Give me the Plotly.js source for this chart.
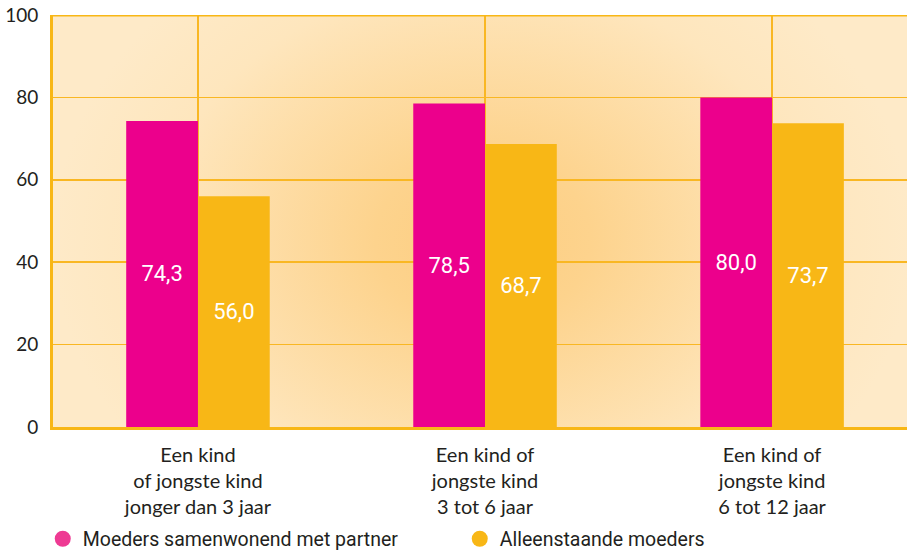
<!DOCTYPE html>
<html>
<head>
<meta charset="utf-8">
<script src="https://cdn.plot.ly/plotly-3.0.1.min.js"></script>
<style>html,body{margin:0;padding:0;background:#fff;}#chart{width:907px;height:550px;}</style>
</head>
<body>
<div id="chart"></div>
<script>
var categories = ["Een kind<br>of jongste kind<br>jonger dan 3 jaar", "Een kind of<br>jongste kind<br>3 tot 6 jaar", "Een kind of<br>jongste kind<br>6 tot 12 jaar"];
var seriesNames = ["Moeders samenwonend met partner", "Alleenstaande moeders"];
var samenwonend = [74.3, 78.5, 80.0];
var alleenstaand = [56.0, 68.7, 73.7];
var yTicks = [0, 20, 40, 60, 80, 100];

var pink = "#EC008C", orange = "#F8B716", grid = "#F9B723", txt = "#231F20";
function fmt(v){ return v.toFixed(1).replace(".", ","); }

var svg = '<svg xmlns="http://www.w3.org/2000/svg" width="854" height="412" viewBox="0 0 854 412" preserveAspectRatio="none">' +
  '<defs><radialGradient id="g" gradientUnits="userSpaceOnUse" cx="430" cy="225" r="430" gradientTransform="translate(430 225) scale(1 0.8) translate(-430 -225)">' +
  '<stop offset="0" stop-color="#FCCD80"/><stop offset="0.25" stop-color="#FDD38D"/><stop offset="0.75" stop-color="#FEE6BD"/><stop offset="1" stop-color="#FEEAC8"/></radialGradient></defs>' +
  '<rect width="854" height="412" fill="#FEEAC8"/><rect width="854" height="412" fill="url(#g)"/></svg>';
var bgSrc = "data:image/svg+xml;charset=utf-8," + encodeURIComponent(svg);

var barCommon = {
  type: "bar", textposition: "inside", insidetextanchor: "middle",
  textfont: {family: "Roboto", size: 22, color: "#ffffff"},
  showlegend: false, hoverinfo: "skip", cliponaxis: false
};
var data = [
  Object.assign({}, barCommon, {x: categories, y: samenwonend, text: samenwonend.map(fmt), marker: {color: pink}, name: seriesNames[0]}),
  Object.assign({}, barCommon, {x: categories, y: alleenstaand, text: alleenstaand.map(fmt), marker: {color: orange}, name: seriesNames[1]}),
  {type: "scatter", mode: "markers", x: [null], y: [null], name: seriesNames[0], marker: {color: "#EE3A93", size: 16, symbol: "circle"}, showlegend: true},
  {type: "scatter", mode: "markers", x: [null], y: [null], name: seriesNames[1], marker: {color: "#F8B716", size: 16, symbol: "circle"}, showlegend: true}
];

var layout = {
  width: 907, height: 550,
  margin: {l: 53, r: 0, t: 15, b: 123, autoexpand: false},
  paper_bgcolor: "#ffffff", plot_bgcolor: "rgba(0,0,0,0)",
  barmode: "group", bargap: 0.5, bargroupgap: 0,
  font: {family: "Lato", color: txt},
  xaxis: {
    type: "category", range: [-0.505, 2.47], automargin: false,
    showgrid: true, gridcolor: grid, gridwidth: 1.5,
    showline: true, linecolor: orange, linewidth: 3,
    ticks: "", tickfont: {family: "Lato", size: 20, color: txt},
    ticklabelstandoff: 8, fixedrange: true
  },
  yaxis: {
    range: [0, 100], tickvals: yTicks, ticktext: yTicks.map(String), automargin: false,
    showgrid: true, gridcolor: grid, gridwidth: 1.5, zeroline: false,
    showline: true, linecolor: orange, linewidth: 3,
    ticks: "", tickfont: {family: "Lato", size: 19, color: txt},
    ticklabelstandoff: 8, fixedrange: true
  },
  shapes: [
    {type: "line", xref: "paper", yref: "y", x0: 0, x1: 1, y0: 100, y1: 100, line: {color: orange, width: 3}}
  ],
  images: [
    {source: bgSrc, xref: "paper", yref: "paper", x: 0, y: 1, sizex: 1, sizey: 1, xanchor: "left", yanchor: "top", sizing: "stretch", layer: "below"}
  ],
  legend: {
    orientation: "h", x: -0.012, xanchor: "left", y: -0.272, yanchor: "middle",
    font: {family: "Roboto", size: 19.5, color: txt},
    itemwidth: 30,
    entrywidth: 372, entrywidthmode: "pixels", bgcolor: "rgba(0,0,0,0)"
  },
  showlegend: true
};

Plotly.newPlot("chart", data, layout, {displayModeBar: false, staticPlot: true});
</script>
</body>
</html>
